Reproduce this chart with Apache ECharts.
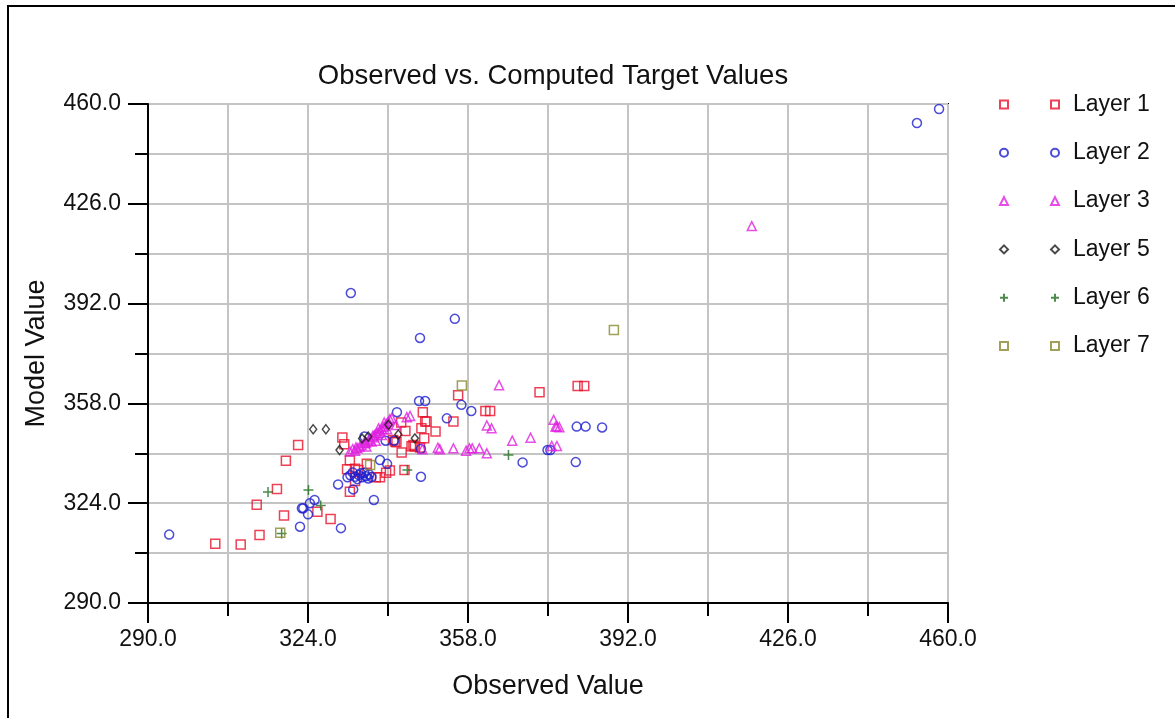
<!DOCTYPE html>
<html>
<head>
<meta charset="utf-8">
<script src="https://cdn.jsdelivr.net/npm/echarts@6/dist/echarts.min.js"></script>
<style>
html,body{margin:0;padding:0;background:#fff;}
#chart{width:1175px;height:718px;}
</style>
</head>
<body>
<div id="chart"></div>
<script>
// ---- data (observed, model) ----
var layerNames = ['Layer 1','Layer 2','Layer 3','Layer 5','Layer 6','Layer 7'];
var layer1 = [[304.3,310.2],[309.7,309.9],[313.7,313.2],[313.1,323.5],[317.4,328.8],[318.9,319.8],[319.3,338.5],[321.9,343.8],[326.0,321.1],[328.8,318.6],[331.3,346.4],[331.7,344.1],[332.9,327.9],[334.0,331.6],[332.3,335.6],[334.0,335.7],[334.7,335.3],[332.9,338.6],[336.5,337.4],[338.4,332.8],[339.3,332.8],[340.6,334.4],[341.4,335.1],[342.1,345.5],[342.8,344.8],[342.5,345.0],[343.9,341.3],[343.8,351.5],[344.7,348.6],[344.5,335.3],[346.0,343.4],[346.7,343.3],[347.8,343.0],[346.4,343.8],[348.1,349.5],[348.7,346.1],[348.4,355.0],[348.9,351.8],[349.2,351.8],[351.1,348.4],[354.9,351.8],[355.9,360.8],[361.7,355.4],[362.7,355.4],[373.2,361.8],[381.3,363.9],[382.7,363.9]];
var layer2 = [[294.5,313.3],[322.3,316.0],[322.7,322.3],[324.0,320.2],[323.0,322.3],[324.4,324.0],[325.4,325.1],[331.0,315.5],[330.4,330.4],[333.6,328.7],[333.0,333.5],[334.0,333.0],[334.8,333.6],[335.5,332.8],[336.3,333.2],[337.0,333.8],[337.5,332.9],[335.2,334.2],[333.5,334.5],[334.5,332.2],[336.0,334.4],[336.8,332.4],[332.4,332.8],[338.0,325.1],[336.0,346.7],[339.3,338.7],[340.8,337.4],[340.5,345.3],[342.3,345.3],[342.9,355.0],[348.0,333.0],[348.0,342.5],[347.6,358.8],[348.9,358.8],[353.5,352.9],[356.6,357.5],[358.7,355.4],[347.8,380.3],[355.2,386.8],[333.1,395.6],[369.6,337.9],[374.9,342.1],[375.5,342.1],[380.9,338.0],[381.1,350.1],[383.0,350.1],[386.5,349.8],[453.4,453.5],[458.1,458.3]];
var layer3 = [[332.9,341.6],[333.5,342.4],[334.0,341.9],[334.2,343.0],[334.5,342.7],[335.0,343.3],[335.4,343.8],[335.9,344.4],[336.2,345.0],[336.3,344.6],[336.8,345.3],[337.2,345.8],[337.5,345.0],[337.8,347.0],[337.9,346.5],[338.2,347.2],[338.6,347.8],[338.9,348.0],[339.0,349.5],[339.3,348.7],[339.7,349.2],[340.0,349.9],[340.2,351.5],[340.4,350.3],[340.7,351.0],[341.1,351.8],[341.4,352.6],[341.8,353.0],[338.4,345.3],[339.7,347.2],[336.4,343.3],[340.8,349.2],[342.7,350.6],[345.0,353.3],[345.7,353.7],[348.3,342.4],[351.6,342.9],[352.0,342.4],[354.9,342.7],[357.6,341.9],[358.3,342.7],[358.9,342.7],[360.4,342.7],[362.0,341.0],[364.6,364.2],[362.0,350.5],[363.0,349.5],[367.4,345.3],[371.3,346.3],[376.2,352.4],[376.6,350.1],[376.9,350.1],[377.4,349.9],[375.8,343.5],[376.9,343.5],[418.3,418.4]];
var layer5 = [[325.1,349.2],[327.8,349.2],[330.7,342.1],[336.8,346.7],[341.1,350.7],[343.2,347.4],[346.7,346.1],[335.5,346.0]];
var layer6 = [[315.5,327.8],[318.4,313.7],[324.1,328.5],[326.7,323.2],[345.1,335.3],[366.6,340.4]];
var layer7 = [[318.1,313.9],[337.2,337.0],[356.7,364.1],[389.0,383.0]];
var axisMin = 290, axisMax = 460, axisStep = 34;

var layerData = [layer1, layer2, layer3, layer5, layer6, layer7];
var layerColors = ['#e8102a','#1e1ed0','#e020e0','#1a1a1a','#1f6e1f','#888830'];
var layerSymbols = ['rect','circle','triangle','diamond','path://M5,0L5,10M0,5L10,5','rect'];
var layerSizes = [[9,9],[9,9],[9,9],[7,9],[10,10],[9,9]];

var FONT = '"Liberation Sans", Arial, sans-serif';
var chart = echarts.init(document.getElementById('chart'));

var series = layerNames.map(function (n, i) {
  return {
    name: n,
    type: 'scatter',
    data: layerData[i],
    symbol: layerSymbols[i],
    symbolSize: layerSizes[i],
    itemStyle: { color: 'rgba(0,0,0,0)', borderColor: layerColors[i], borderWidth: 1.5 },
    emphasis: { disabled: true },
    animation: false
  };
});

function fmt(v) { return v.toFixed(1); }

var axisCommon = {
  type: 'value',
  min: axisMin, max: axisMax, interval: axisStep,
  axisLine: { show: true, onZero: false, lineStyle: { color: '#000', width: 2 } },
  axisTick: { show: true, inside: false, length: 20, lineStyle: { color: '#000', width: 2 } },
  minorTick: { show: true, splitNumber: 2, length: 13, lineStyle: { color: '#000', width: 2 } },
  splitLine: { show: true, lineStyle: { color: '#c4c4c4', width: 2 } },
  minorSplitLine: { show: true, lineStyle: { color: '#c4c4c4', width: 2 } },
  nameLocation: 'middle',
  nameTextStyle: { fontFamily: FONT, fontSize: 27, color: '#111' }
};

chart.setOption({
  backgroundColor: '#fff',
  animation: false,
  title: {
    text: 'Observed vs. Computed Target Values',
    left: 548, top: 57, textAlign: 'center',
    textStyle: { fontFamily: FONT, fontSize: 27.5, fontWeight: 'normal', color: '#111' }
  },
  graphic: [{
    type: 'rect', silent: true, z: -1,
    shape: { x: 8, y: 6, width: 1200, height: 800 },
    style: { fill: 'none', stroke: '#000', lineWidth: 2 }
  }],
  legend: [{
    orient: 'vertical', left: 994, top: 88, itemWidth: 8, itemHeight: 8, itemGap: 25.3,
    data: layerNames, selectedMode: false,
    formatter: function () { return ' '; },
    textStyle: { fontFamily: FONT, fontSize: 23, color: '#111' }
  }, {
    orient: 'vertical', left: 1045, top: 88, itemWidth: 8, itemHeight: 8, itemGap: 25.3,
    data: layerNames, selectedMode: false,
    textStyle: { fontFamily: FONT, fontSize: 23, color: '#111', padding: [0, 0, 0, 9] }
  }],
  grid: { left: 148, right: 227, top: 104, bottom: 115, show: true, borderColor: '#000', borderWidth: 2, outerBoundsMode: 'none' },
  xAxis: Object.assign({}, axisCommon, {
    name: 'Observed Value', nameGap: 70,
    axisLabel: { margin: 25, formatter: fmt, fontFamily: FONT, fontSize: 23, color: '#111' }
  }),
  yAxis: Object.assign({}, axisCommon, {
    name: 'Model Value', nameGap: 98,
    axisLabel: { margin: 27, formatter: fmt, fontFamily: FONT, fontSize: 23, color: '#111' }
  }),
  series: series
});
</script>
</body>
</html>
